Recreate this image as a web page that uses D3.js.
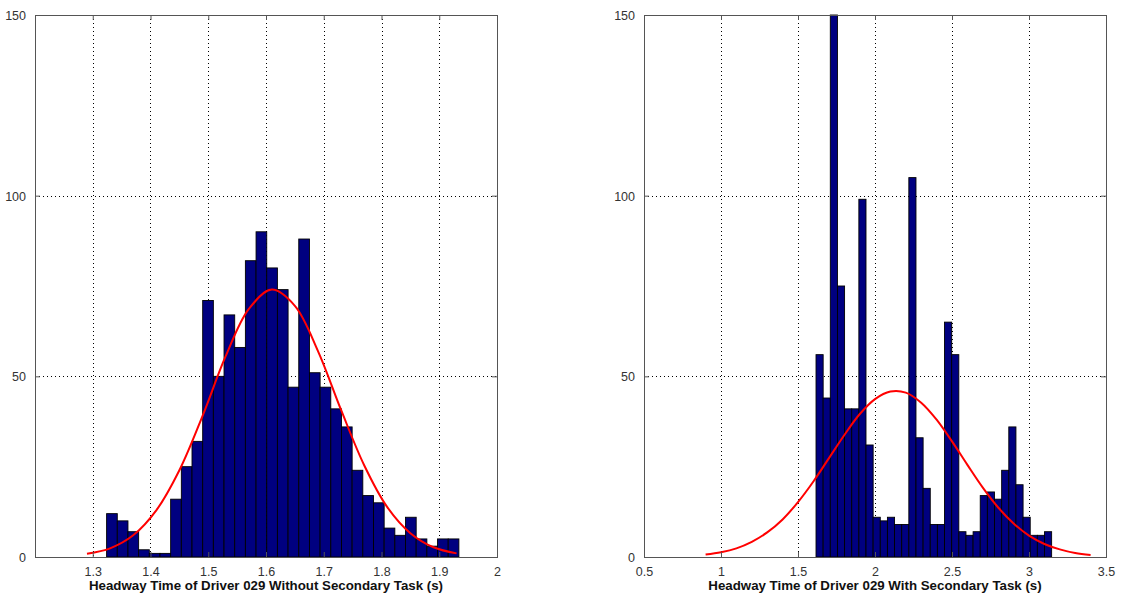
<!DOCTYPE html>
<html><head><meta charset="utf-8">
<script src="https://cdn.jsdelivr.net/npm/d3@7"></script>
<style>body{margin:0;background:#fff;} text{font-family:"Liberation Sans",Arial,sans-serif;}</style>
</head><body><svg id="c" width="1121" height="599"></svg>
<script>
// ---- Left panel data (Without Secondary Task) ----
const leftBinRange = [1.324, 1.934];
const leftCounts = [12,10,7,2,1,1,16,25,32,71,50,67,58,82,90,80,74,47,88,51,47,41,36,24,17,15,8,6,11,5,3,5,5];
const leftCurveX = [1.29,1.33,1.37,1.41,1.45,1.49,1.53,1.57,1.61,1.65,1.69,1.73,1.77,1.81,1.85,1.89,1.93];
const leftCurveY = [0.9,2.4,6.0,12.9,24,39,55.5,68.6,74,69.5,57,40.7,25.4,13.8,6.6,2.7,1.0];
const leftXTicks = [1.3,1.4,1.5,1.6,1.7,1.8,1.9,2];
const leftXDomain = [1.2, 2];
const leftTitle = "Headway Time of Driver 029 Without Secondary Task (s)";

// ---- Right panel data (With Secondary Task) ----
const rightBinRange = [1.617, 3.147];
const rightCounts = [56,44,150,75,41,41,99,31,11,10,11,9,9,105,33,19,9,9,65,56,7,6,7,17,18,16,24,36,20,11,6,6,7];
const rightCurveX = [0.9,1.0,1.1,1.2,1.3,1.4,1.5,1.6,1.7,1.8,1.9,2.0,2.1,2.2,2.3,2.4,2.5,2.6,2.7,2.8,2.9,3.0,3.1,3.2,3.3,3.4];
const rightCurveY = [0.7,1.33,2.4,4.2,6.8,10.4,15.2,20.9,27.3,33.7,39.5,43.7,45.8,45.5,42.7,38.0,32.0,25.5,19.2,13.7,9.3,5.9,3.6,2.1,1.1,0.58];
const rightXTicks = [0.5,1,1.5,2,2.5,3,3.5];
const rightXDomain = [0.5, 3.5];
const rightTitle = "Headway Time of Driver 029 With Secondary Task (s)";

const yTicks = [0,50,100,150];
const yDomain = [0,150];

const svg = d3.select("#c");

function panel(opts){
  const {x0,x1,y0,y1,xDomain,xTicks,binRange,counts,cx,cy,title} = opts;
  const g = svg.append("g");
  const x = d3.scaleLinear().domain(xDomain).range([x0,x1]);
  const y = d3.scaleLinear().domain(yDomain).range([y1,y0]);
  g.append("rect").attr("x",x0).attr("y",y0).attr("width",x1-x0).attr("height",y1-y0).attr("fill","#fff");
  const grid = g.append("g").attr("stroke","#000").attr("stroke-width",1).attr("stroke-dasharray","1,3").attr("shape-rendering","crispEdges");
  xTicks.forEach(t=>{ if(x(t)>x0+1 && x(t)<x1-1) grid.append("line").attr("x1",Math.round(x(t))+0.5).attr("x2",Math.round(x(t))+0.5).attr("y1",y0).attr("y2",y1); });
  yTicks.forEach(t=>{ if(y(t)>y0+1 && y(t)<y1-1) grid.append("line").attr("y1",Math.round(y(t))+0.5).attr("y2",Math.round(y(t))+0.5).attr("x1",x0).attr("x2",x1); });
  const n = counts.length;
  const bw = (binRange[1]-binRange[0])/n;
  const bars = counts.map((c,i)=>({a:binRange[0]+i*bw, b:binRange[0]+(i+1)*bw, c}));
  g.append("g").selectAll("rect").data(bars).join("rect")
    .attr("x",d=>x(d.a)).attr("width",d=>x(d.b)-x(d.a))
    .attr("y",d=>y(Math.min(d.c,150))).attr("height",d=>y(0)-y(Math.min(d.c,150)))
    .attr("fill","#000080").attr("stroke","#000").attr("stroke-width",0.9);
  const pts = cx.map((v,i)=>[v,cy[i]]);
  g.append("path").datum(pts)
    .attr("d",d3.line().x(d=>x(d[0])).y(d=>y(d[1])).curve(d3.curveCatmullRom))
    .attr("fill","none").attr("stroke","#ff0000").attr("stroke-width",2);
  g.append("rect").attr("x",x0+0.5).attr("y",y0+0.5).attr("width",x1-x0).attr("height",y1-y0)
    .attr("fill","none").attr("stroke","#555").attr("stroke-width",1.2).attr("shape-rendering","crispEdges");
  const ax = g.append("g").attr("transform",`translate(0,${y1})`)
    .call(d3.axisBottom(x).tickValues(xTicks).tickSize(-5).tickPadding(10).tickFormat(d3.format("")));
  const axT = g.append("g").attr("transform",`translate(0,${y0})`)
    .call(d3.axisTop(x).tickValues(xTicks).tickSize(-5).tickFormat(""));
  const ay = g.append("g").attr("transform",`translate(${x0},0)`)
    .call(d3.axisLeft(y).tickValues(yTicks).tickSize(-5).tickPadding(9));
  const ayR = g.append("g").attr("transform",`translate(${x1},0)`)
    .call(d3.axisRight(y).tickValues(yTicks).tickSize(-5).tickFormat(""));
  [ax,axT,ay,ayR].forEach(a=>{
    a.select(".domain").remove();
    a.selectAll(".tick line").attr("stroke","#555");
    a.selectAll(".tick text").attr("fill","#333").attr("font-size",12.5).attr("font-family","Liberation Sans, Arial, sans-serif");
  });
  ay.selectAll(".tick text").attr("dy","0.35em");
  g.append("text").attr("x",(x0+x1)/2).attr("y",590).attr("text-anchor","middle")
    .attr("font-size",13.3).attr("font-weight","bold").attr("fill","#111").text(title);
}

panel({x0:35,x1:497,y0:15,y1:557,xDomain:leftXDomain,xTicks:leftXTicks,binRange:leftBinRange,counts:leftCounts,cx:leftCurveX,cy:leftCurveY,title:leftTitle});
panel({x0:644,x1:1106,y0:15,y1:557,xDomain:rightXDomain,xTicks:rightXTicks,binRange:rightBinRange,counts:rightCounts,cx:rightCurveX,cy:rightCurveY,title:rightTitle});
</script></body></html>
